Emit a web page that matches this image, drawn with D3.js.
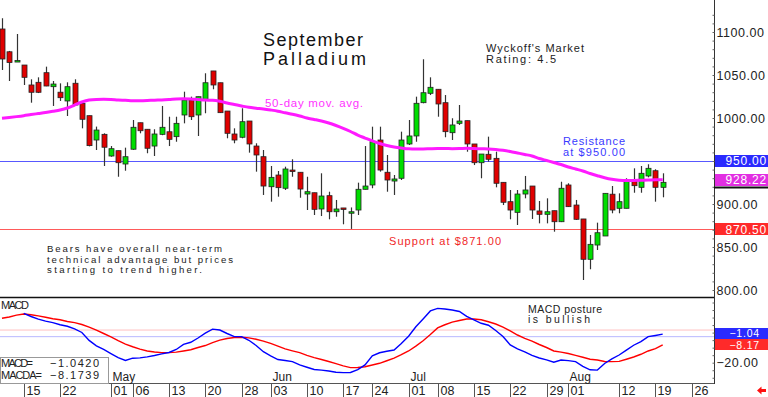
<!DOCTYPE html>
<html>
<head>
<meta charset="utf-8">
<script src="https://cdn.jsdelivr.net/npm/d3@7"></script>
<style>
body { margin: 0; background: #fff; }
svg { display: block; font-family: "Liberation Sans", Arial, sans-serif; }
</style>
</head>
<body>
<div id="chart"></div>
<script>
// trading days on the chart (holidays and one missing session left out)
var skipDays = ["2019-05-27", "2019-06-21", "2019-07-04"];
var parseDay = d3.timeParse("%Y-%m-%d"),
    fmtDay = d3.timeFormat("%Y-%m-%d");
var days = d3.timeDay.range(parseDay("2019-04-10"), parseDay("2019-08-31"))
    .filter(function(d) { return d.getDay() > 0 && d.getDay() < 6 && skipDays.indexOf(fmtDay(d)) < 0; })
    .map(fmtDay);

var open = [1103.5,1077,1066,1061.6,1038.4,1041.5,1052.7,1036.4,1030,1019.8,
    1040.4,1017,1002.7,974.4,981,955.8,962,946.5,963.7,994.5,
    986.9,967.4,981,984,978.3,1003.5,1020.9,1003.5,1021.7,1054.7,
    1041,1008.1,981.4,977.6,996.5,967.4,955,920.1,933.7,918.3,
    939.5,936.9,911.6,913.1,894.2,909.7,891,895.4,890,893,
    917.1,922.1,974.4,936.9,926.7,929.9,969.8,979.1,1017.8,1028.7,
    1033.4,1017.8,982.9,993.8,996.9,969.8,948,957.8,953.1,925.2,
    902.7,890.3,911.6,920.9,891.9,888,892.2,879.4,922.1,898.8,
    882.6,835.7,852.3,862.8,911.4,895,895,926.7,919.4,932.6,
    938.7,919.4];
var high = [1116,1078,1097.7,1061.6,1045,1047.3,1059.7,1043,1040.3,1041.5,
    1045,1017,1002.7,990,982.2,967.4,962,965.5,997.7,994.5,
    986.9,986.9,1014,1001.5,1001.5,1030.6,1024.8,1024.8,1052,1054.7,
    1041,1008.1,988,1011.3,996.5,970.6,962.8,944.2,938.4,943.4,
    952,936.9,931.7,913.1,935.7,914.3,904.7,895.4,896,924.8,
    967.4,989.9,989.9,957,933.7,984.1,997.7,1024.8,1068.3,1047.3,
    1033.4,1026.7,999.7,1015.1,996.9,969.8,958.1,978.3,960.8,925.2,
    916.3,916.3,932.6,920.9,903.5,906.6,892.2,925.9,924.1,904.7,
    882.6,864,878.3,912.4,920.9,912.4,929.9,941.5,944.2,946.2,
    940.4,935.7];
var low = [1055.8,1043,1065.5,1038.4,1017.8,1029,1037,1014,1019.8,1002.3,
    1014,988,967,962.8,944.2,955,931.7,938.7,963,982.2,
    959,955.8,980,967.4,972.4,993.8,997.7,979.1,1005.5,1033.4,
    1006,976.4,970.6,976.4,959.7,937.6,910.5,902.7,908.5,916.3,
    931.7,907.3,893,887.2,886,882.2,885.2,876.4,871,887.2,
    917,918.3,937.6,914.3,910.5,927.9,968.6,972.4,1017.1,1026.7,
    1001.5,977.6,974.4,991.9,960.8,945.3,929.9,949.2,919.4,898.8,
    882.2,875.6,906.6,882.6,877.5,877.5,867.8,879,896.5,881.4,
    811.6,824.1,846.5,862.8,889.2,889.2,895,913.1,913.1,931,
    902.7,907.8];
var close = [1068.6,1064.5,1066.8,1047.3,1029.9,1029.9,1037.2,1039.5,1023.6,1036.4,
    1015.1,998.5,967.9,986,966,964.3,948,955,989.2,985.2,
    964.8,981.4,989.2,975.2,993.8,1020.9,1001.5,1024.8,1041,1038.4,
    1006.2,982.2,974.4,995.7,969.8,957,920.9,931,919,940.7,
    938.4,917.4,914.3,893.8,909.3,891,894.2,894.9,891,917.1,
    920.9,972.4,939.5,927.9,929.1,974.4,979.1,1017.1,1029.4,1035.7,
    1016.3,984.1,991.9,996.5,969.8,948,958.1,952,924.1,902,
    893,911.6,916.3,893,888,891,879.4,918.3,896.9,882.2,
    835.7,853.1,866.6,912.4,893,902.7,927.1,921.3,935.7,941.5,
    919.4,925.2];

// 50-day moving average
var ma50 = [999.7,1000.6,1001.6,1002.7,1004,1005.2,1006.4,1007.8,1009.3,1011.6,
    1015.1,1018.6,1020.9,1021.6,1021.7,1021.5,1020.9,1020.6,1020.2,1020.1,
    1020.3,1020.7,1020.9,1021.4,1022.1,1022.4,1022.1,1021.5,1020.9,1020.6,
    1019.4,1017.4,1015.7,1014,1012.4,1011.4,1010.5,1009.3,1007.9,1006,
    1004.3,1002.3,1000,998.3,996.5,994.2,991.3,988,984.3,980.2,
    976.7,973.3,970.3,968,966.3,965.1,964.2,964,964,964.3,
    964.5,964.5,964.3,964.4,964.7,964.5,964.2,964,963.4,962.4,
    961,959.3,957.6,955.8,952.9,950.6,948.3,945.9,943,940.7,
    938.4,935.5,932.9,930.5,928.7,927.7,927.3,927.3,927.6,927.9,
    928.1,928.22];

var macd = [null,null,null,12.8,10.7,9.0,7.6,6.6,5.2,4.2,
    2.5,0.1,-5.2,-8.8,-11.2,-13.9,-16.6,-18.5,-17.0,-16.8,
    -16.1,-15.2,-14.1,-13.2,-11.2,-7.8,-6.4,-3.6,-0.4,2.3,
    1.7,-0.6,-2.7,-2.7,-5.1,-8.6,-12.7,-15.4,-17.9,-18.5,
    -19.3,-21.5,-23.0,-24.5,-24.9,-25.5,-26.3,-26.6,-26.5,-24.6,
    -21.5,-15.5,-13.4,-12.4,-11.6,-7.2,-2.4,3.9,9.1,14.4,
    16.1,15.7,15.0,14.0,10.8,8.5,6.2,4.9,1.4,-2.6,
    -8.2,-10.8,-12.8,-15.2,-16.9,-18.1,-19.7,-18.2,-18.6,-19.3,
    -22.4,-24.7,-24.9,-20.5,-17.5,-14.9,-11.6,-8.4,-6.0,-2.7,
    -1.9,-1.0420];
var macda = [9.5,10.4,11.6,12.4,11.9,11.1,10.2,9.2,8.5,7.4,
    6.6,5.4,3.7,1.7,-0.6,-2.9,-5.4,-7.6,-9.4,-11.0,
    -12.2,-12.9,-13.3,-13.3,-13.0,-12.2,-11.4,-9.9,-8.6,-6.6,
    -5.0,-3.9,-3.3,-3.1,-3.5,-4.4,-5.7,-7.2,-9.0,-10.8,
    -12.1,-13.3,-15.1,-16.6,-17.9,-19.2,-20.6,-22.1,-23.3,-23.2,
    -22.7,-21.5,-20.4,-18.7,-16.9,-14.7,-12.2,-9.0,-5.4,-1.3,
    3.1,5.2,7.0,8.0,9.0,9.0,8.5,7.2,5.7,3.7,
    1.1,-1.6,-3.8,-5.6,-7.9,-9.9,-12.2,-13.0,-13.9,-15.1,
    -16.4,-17.7,-18.2,-19.2,-19.3,-19.1,-17.7,-16.2,-14.4,-12.2,
    -10.6,-8.1739];

var resistance = 950, support = 870.5, lastMark = 920;
var macdGuides = [1.7, -2.7];
var priceTicks = [800, 850, 900, 950, 1000, 1050, 1100];
var macdTicks = [-20];
var dateTicks = ["2019-04-15","2019-04-22","2019-05-01","2019-05-06","2019-05-13","2019-05-20",
    "2019-05-28","2019-06-03","2019-06-10","2019-06-17","2019-06-24","2019-07-01","2019-07-08",
    "2019-07-15","2019-07-22","2019-07-29","2019-08-01","2019-08-12","2019-08-19","2019-08-26"];
var monthTicks = ["2019-05-01","2019-06-03","2019-07-01","2019-08-01"];

var W = 768, H = 397, axisX = 714,
    priceBottom = 297, macdBottom = 383;

var svg = d3.select("#chart").append("svg")
    .attr("width", W).attr("height", H);

var x = d3.scaleLinear().domain([0, 91]).range([2, 662.7]);
var y = d3.scaleLinear().domain([800, 1100]).range([290, 32]);
var ym = d3.scaleLinear().domain([-20, 0]).range([362.7, 332.6]);

var defs = svg.append("defs");
defs.append("clipPath").attr("id", "clipPrice")
    .append("rect").attr("x", 0).attr("y", 0).attr("width", axisX).attr("height", priceBottom);
defs.append("clipPath").attr("id", "clipMacd")
    .append("rect").attr("x", 0).attr("y", priceBottom).attr("width", axisX).attr("height", macdBottom - priceBottom);

function px(i) { return Math.round(x(i)); }

var price = svg.append("g").attr("clip-path", "url(#clipPrice)");

// support / resistance
price.append("line")
    .attr("x1", 0).attr("x2", axisX)
    .attr("y1", Math.round(y(resistance)) + 0.5).attr("y2", Math.round(y(resistance)) + 0.5)
    .attr("stroke", "#5858ff").attr("stroke-width", 1);
price.append("line")
    .attr("x1", 0).attr("x2", axisX)
    .attr("y1", Math.round(y(support)) + 0.5).attr("y2", Math.round(y(support)) + 0.5)
    .attr("stroke", "#ff5a5a").attr("stroke-width", 1);

// candles
var idx = d3.range(open.length);
price.append("g").selectAll("line")
    .data(idx)
    .enter().append("line")
    .attr("x1", function(i) { return px(i) + 0.5; })
    .attr("x2", function(i) { return px(i) + 0.5; })
    .attr("y1", function(i) { return y(high[i]); })
    .attr("y2", function(i) { return y(low[i]); })
    .attr("stroke", "#333").attr("stroke-width", 1.2);

price.append("g").selectAll("rect")
    .data(idx)
    .enter().append("rect")
    .attr("x", function(i) { return px(i) - 2; })
    .attr("width", 5)
    .attr("y", function(i) { return y(Math.max(open[i], close[i])); })
    .attr("height", function(i) { return Math.max(1.5, Math.abs(y(open[i]) - y(close[i]))); })
    .attr("fill", function(i) { return close[i] >= open[i] ? "#00dd00" : "#e00000"; })
    .attr("stroke", "#222").attr("stroke-width", 0.8);

// moving average
price.append("path")
    .datum(idx)
    .attr("fill", "none")
    .attr("stroke", "#ff1aff")
    .attr("stroke-width", 3)
    .attr("d", d3.line().x(function(i) { return x(i); }).y(function(i) { return y(ma50[i]); }).curve(d3.curveMonotoneX));

// MACD panel
var mac = svg.append("g").attr("clip-path", "url(#clipMacd)");
mac.append("line").attr("x1", 0).attr("x2", axisX)
    .attr("y1", ym(macdGuides[0])).attr("y2", ym(macdGuides[0]))
    .attr("stroke", "#ffc0c0").attr("stroke-width", 1);
mac.append("line").attr("x1", 0).attr("x2", axisX)
    .attr("y1", ym(macdGuides[1])).attr("y2", ym(macdGuides[1]))
    .attr("stroke", "#b8b8ff").attr("stroke-width", 1);

mac.append("path")
    .datum(idx)
    .attr("fill", "none").attr("stroke", "#ff0000").attr("stroke-width", 1.4)
    .attr("d", d3.line().x(function(i) { return x(i); }).y(function(i) { return ym(macda[i]); }));
mac.append("path")
    .datum(idx)
    .attr("fill", "none").attr("stroke", "#0000ff").attr("stroke-width", 1.4)
    .attr("d", d3.line().defined(function(i) { return macd[i] !== null; })
        .x(function(i) { return x(i); }).y(function(i) { return ym(macd[i]); }));

// panel frame
svg.append("line").attr("x1", 0).attr("x2", axisX).attr("y1", priceBottom + 0.5).attr("y2", priceBottom + 0.5)
    .attr("stroke", "#111").attr("stroke-width", 1.5);
svg.append("line").attr("x1", 0).attr("x2", axisX).attr("y1", macdBottom + 0.5).attr("y2", macdBottom + 0.5)
    .attr("stroke", "#555").attr("stroke-width", 1);
svg.append("line").attr("x1", axisX + 0.5).attr("x2", axisX + 0.5).attr("y1", 0).attr("y2", macdBottom + 1)
    .attr("stroke", "#333").attr("stroke-width", 1);

// value tags on the axis
var priceTags = [
    { v: resistance, c: "#2a2aff", y: y(resistance) },
    { v: ma50[ma50.length - 1], c: "#e22ee2", y: y(ma50[ma50.length - 1]) },
    { v: support, c: "#ff2a2a", y: y(support) }
];
var macdTags = [
    { v: macd[macd.length - 1], c: "#2a2aff", y: ym(macd[macd.length - 1]) - 1 },
    { v: macda[macda.length - 1], c: "#ff2a2a", y: ym(macda[macda.length - 1]) }
];

function hiddenByTag(tags, pos) {
    return tags.some(function(t) { return Math.abs(t.y - pos) < 9; });
}

// right price axis
var minorPrice = svg.append("g").attr("transform", "translate(" + (axisX + 0.5) + ",0)")
    .call(d3.axisLeft(y).tickValues(d3.range(800, 1121, 10)).tickSize(2).tickFormat(""));
minorPrice.select(".domain").remove();
minorPrice.selectAll("line").attr("stroke", "#666");

var priceAxis = svg.append("g").attr("transform", "translate(" + (axisX + 0.5) + ",0)")
    .call(d3.axisRight(y).tickValues(priceTicks.filter(function(v) { return !hiddenByTag(priceTags, y(v)); }))
        .tickSize(0).tickPadding(2).tickFormat(d3.format(".2f")));
priceAxis.select(".domain").remove();
priceAxis.selectAll("text")
    .attr("font-family", "Liberation Sans, Arial, sans-serif")
    .attr("font-size", 12.5).attr("fill", "#222")
    .style("letter-spacing", "0.55px");

var minorMacd = svg.append("g").attr("transform", "translate(" + (axisX + 0.5) + ",0)")
    .call(d3.axisLeft(ym).tickValues(d3.range(-30, 21, 5)).tickSize(2).tickFormat(""));
minorMacd.select(".domain").remove();
minorMacd.selectAll(".tick").filter(function(d) { var p = ym(d); return p < priceBottom + 2 || p > macdBottom - 1; }).remove();
minorMacd.selectAll("line").attr("stroke", "#666");

var macdAxis = svg.append("g").attr("transform", "translate(" + (axisX + 0.5) + ",0)")
    .call(d3.axisRight(ym).tickValues(macdTicks.filter(function(v) { return !hiddenByTag(macdTags, ym(v)); }))
        .tickSize(0).tickPadding(2).tickFormat(d3.format(".2f")));
macdAxis.select(".domain").remove();
macdAxis.selectAll("text")
    .attr("font-family", "Liberation Sans, Arial, sans-serif")
    .attr("font-size", 12.5).attr("fill", "#222")
    .style("letter-spacing", "0.55px");

svg.append("line")
    .attr("x1", axisX).attr("x2", W)
    .attr("y1", Math.round(y(lastMark)) + 0.5).attr("y2", Math.round(y(lastMark)) + 0.5)
    .attr("stroke", "#111").attr("stroke-width", 2);

function drawTags(tags, right, h, size) {
    var g = svg.append("g").selectAll("g").data(tags).enter().append("g");
    g.append("rect")
        .attr("x", axisX + 1).attr("width", W - axisX - 1)
        .attr("y", function(d) { return Math.round(d.y - h / 2); })
        .attr("height", h)
        .attr("fill", function(d) { return d.c; });
    g.append("text")
        .attr("x", right).attr("y", function(d) { return d.y + size * 0.36; })
        .attr("text-anchor", "end")
        .attr("font-size", size).attr("fill", "#fff")
        .style("letter-spacing", "0.8px")
        .text(function(d) { return d3.format(".2f")(d.v); });
}
drawTags(priceTags, 767, 12, 12);
drawTags(macdTags, 760, 11, 10.5);

// bottom date axis
var tickIdx = dateTicks.map(function(d) { return days.indexOf(d); });
var dateAxis = svg.append("g").attr("transform", "translate(0," + (macdBottom + 1) + ")")
    .call(d3.axisBottom(x).tickValues(tickIdx).tickSize(14)
        .tickFormat(function(i) { return d3.timeFormat("%d")(parseDay(days[i])); }));
dateAxis.select(".domain").remove();
dateAxis.selectAll(".tick").attr("transform", function(i) { return "translate(" + (px(i) + 0.5) + ",0)"; });
dateAxis.selectAll("line").attr("stroke", "#555");
dateAxis.selectAll("text")
    .attr("text-anchor", "start").attr("x", 2).attr("y", 2).attr("dy", "0.71em")
    .attr("font-family", "Liberation Sans, Arial, sans-serif")
    .attr("font-size", 12.5).attr("fill", "#222");

svg.append("g").selectAll("text")
    .data(monthTicks)
    .enter().append("text")
    .attr("x", function(d) { return px(days.indexOf(d)) + 1.5; })
    .attr("y", 381)
    .attr("font-size", 12).attr("fill", "#222")
    .text(function(d) { return d3.timeFormat("%b")(parseDay(d)); });

// red arrow at bottom right
svg.append("path")
    .attr("d", "M757,390.5 L761.5,386.5 L761.5,389 L766,389 L766,392 L761.5,392 L761.5,394.5 Z")
    .attr("fill", "#ff1010");

// annotations
function note(xp, yp, str, size, color, len) {
    svg.append("text")
        .attr("x", xp).attr("y", yp)
        .attr("font-size", size).attr("fill", color)
        .attr("textLength", len).attr("lengthAdjust", "spacing")
        .text(str);
}
note(263, 46, "September", 18, "#111", 100);
note(263, 64.5, "Palladium", 18, "#111", 103);
note(486, 52, "Wyckoff's Market", 11, "#222", 98);
note(486, 63, "Rating: 4.5", 11, "#222", 70);
note(265, 106.5, "50-day mov. avg.", 11.5, "#ff33ff", 98);
note(563, 145, "Resistance", 11, "#3a3aff", 62);
note(563, 155.5, "at $950.00", 11, "#3a3aff", 62);
note(389, 244.5, "Support at $871.00", 11, "#f02828", 112);
note(47, 252.3, "Bears have overall near-term", 9.6, "#222", 175);
note(47, 262.6, "technical advantage but prices", 9.6, "#222", 186);
note(47, 272.8, "starting to trend higher.", 9.6, "#222", 155);
note(528, 312.7, "MACD posture", 10.5, "#222", 74);
note(528, 323.3, "is bullish", 10.5, "#222", 62);
note(1, 309.3, "MACD", 11, "#222", 28);

// MACD readout box
svg.append("rect")
    .attr("x", 0.5).attr("y", 357.5).attr("width", 108).attr("height", 26)
    .attr("fill", "#fff").attr("stroke", "#999").attr("stroke-width", 1);
note(1, 366.8, "MACD=", 11, "#222", 32);
note(50, 366.8, d3.format(".4f")(macd[macd.length - 1]), 11, "#222", 49);
note(1, 379.4, "MACDA=", 11, "#222", 41);
note(50, 379.4, d3.format(".4f")(macda[macda.length - 1]), 11, "#222", 49);
</script>
</body>
</html>
